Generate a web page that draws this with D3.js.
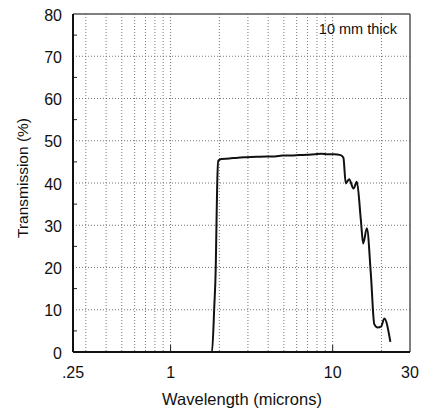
<!DOCTYPE html>
<meta charset="utf-8">
<script src="https://d3js.org/d3.v7.min.js"></script>
<style>
  body { margin: 0; background: #fff; }
  text { font-family: "Liberation Sans", Arial, sans-serif; fill: #111; }
</style>
<div id="my_dataviz"></div>
<script>
    // wavelength (microns) and transmission (%)
    var wavelength = [0.9, 1.5, 1.8, 1.86, 1.9, 1.92, 1.94, 1.97, 2.06, 2.3, 2.6, 3.0, 3.4, 3.9,
                      4.4, 4.9, 5.5, 6.2, 7.0, 7.8, 8.5, 9.3, 10.2, 11.2, 11.65, 12.04,
                      12.63, 13.45, 14.1, 14.93, 15.42, 16.26, 17.2, 18.06, 18.95, 19.87,
                      20.83, 22.7];
    var transmission = [0, 0, 0, 10.7, 20.2, 30.5, 39.9, 45.3, 45.7, 45.8, 46.0, 46.1, 46.2, 46.3,
                        46.3, 46.5, 46.5, 46.6, 46.7, 46.8, 46.9, 46.8, 46.8, 46.6, 46.0, 39.9,
                        40.9, 38.7, 40.3, 31.2, 25.7, 29.3, 18.5, 6.6, 5.8, 6.0,
                        7.9, 2.4];
    var xGrid = [0.3, 0.4, 0.5, 0.6, 0.7, 0.8, 0.9, 1, 2, 3, 4, 5, 6, 7, 8, 9, 10, 20];
    var xLabels = [0.25, 1, 10, 30];
    var xLabelText = [".25", "1", "10", "30"];
    var yTicks = [0, 10, 20, 30, 40, 50, 60, 70, 80];
    var yMinor = [5, 15, 25, 35, 45, 55, 65, 75];
    var note = "10 mm thick";

    var data = wavelength.map((w, i) => ({w: w, t: transmission[i]}));

    var margin = {top: 14, right: 20, bottom: 57, left: 73},
        width = 410 - margin.left,
        height = 352 - margin.top;

    var svg = d3.select("#my_dataviz")
      .append("svg")
        .attr("width", 430)
        .attr("height", 409)
      .append("g")
        .attr("transform", "translate(" + margin.left + "," + margin.top + ")");

    var x = d3.scaleLog().domain([0.25, 30]).range([0, width]);
    var y = d3.scaleLinear().domain([0, 80]).range([height, 0]);

    // dotted grid
    svg.selectAll(".vgrid")
      .data(xGrid)
      .enter().append("line")
        .attr("x1", d => x(d)).attr("x2", d => x(d))
        .attr("y1", 0).attr("y2", height)
        .attr("stroke", "#777")
        .attr("stroke-width", 1)
        .attr("stroke-dasharray", "1,2");

    svg.selectAll(".hgrid")
      .data(yTicks.slice(1, -1))
      .enter().append("line")
        .attr("x1", 0).attr("x2", width)
        .attr("y1", d => y(d)).attr("y2", d => y(d))
        .attr("stroke", "#777")
        .attr("stroke-width", 1)
        .attr("stroke-dasharray", "1,2");

    // minor ticks on the left axis
    svg.selectAll(".ytick")
      .data(yMinor)
      .enter().append("line")
        .attr("x1", 0).attr("x2", 4)
        .attr("y1", d => y(d)).attr("y2", d => y(d))
        .attr("stroke", "#222");

    // major ticks on the bottom axis
    svg.selectAll(".xtick")
      .data([1, 10])
      .enter().append("line")
        .attr("x1", d => x(d)).attr("x2", d => x(d))
        .attr("y1", height).attr("y2", height - 7)
        .attr("stroke", "#222");

    // frame: top and right grey, left and bottom black
    svg.append("line").attr("x1", 0).attr("x2", width).attr("y1", 0).attr("y2", 0)
      .attr("stroke", "#555").attr("stroke-width", 1.5);
    svg.append("line").attr("x1", width).attr("x2", width).attr("y1", 0).attr("y2", height)
      .attr("stroke", "#555").attr("stroke-width", 1.5);
    svg.append("line").attr("x1", 0).attr("x2", 0).attr("y1", 0).attr("y2", height)
      .attr("stroke", "#111").attr("stroke-width", 2);
    svg.append("line").attr("x1", 0).attr("x2", width).attr("y1", height).attr("y2", height)
      .attr("stroke", "#111").attr("stroke-width", 2);

    // transmission curve
    svg.append("path")
      .datum(data)
      .attr("fill", "none")
      .attr("stroke", "#111")
      .attr("stroke-width", 2)
      .attr("stroke-linejoin", "round")
      .attr("d", d3.line()
        .x(d => x(d.w))
        .y(d => y(d.t))
        .curve(d3.curveMonotoneX));

    // tick labels
    svg.selectAll(".ylab")
      .data(yTicks)
      .enter().append("text")
        .attr("x", -11)
        .attr("y", d => y(d))
        .attr("dy", "0.42em")
        .attr("text-anchor", "end")
        .style("font-size", "16px")
        .text(d => d);

    svg.selectAll(".xlab")
      .data(xLabels)
      .enter().append("text")
        .attr("x", d => x(d))
        .attr("y", height + 26)
        .attr("text-anchor", "middle")
        .style("font-size", "16px")
        .text((d, i) => xLabelText[i]);

    // axis titles
    svg.append("text")
      .attr("x", 169)
      .attr("y", height + 53)
      .attr("text-anchor", "middle")
      .style("font-size", "16.5px")
      .text("Wavelength (microns)");

    svg.append("text")
      .attr("transform", "translate(-45," + 164 + ")rotate(-90)")
      .attr("text-anchor", "middle")
      .style("font-size", "15.5px")
      .text("Transmission (%)");

    svg.append("text")
      .attr("x", width - 13)
      .attr("y", 20)
      .attr("text-anchor", "end")
      .style("font-size", "14.5px")
      .text(note);
</script>
